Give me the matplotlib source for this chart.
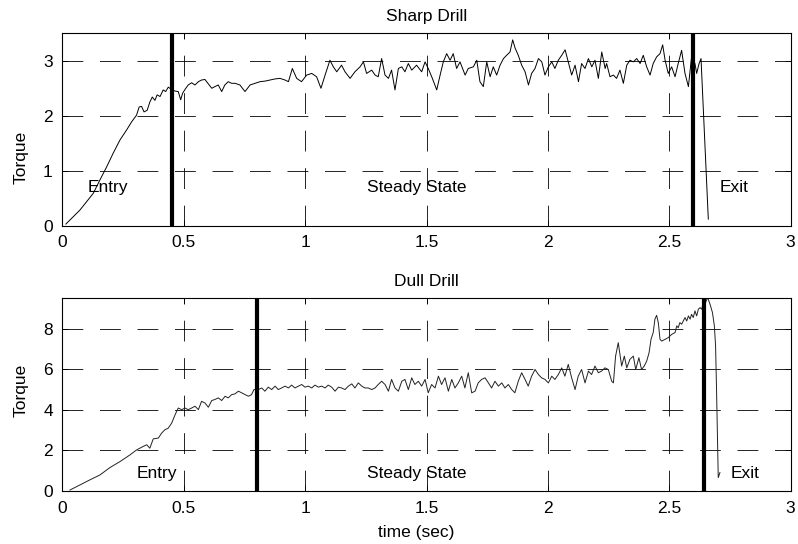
import matplotlib
matplotlib.use("Agg")
import matplotlib.pyplot as plt
from matplotlib.ticker import FormatStrFormatter

plt.rcParams['font.family'] = ['Liberation Sans', 'DejaVu Sans']
plt.rcParams['font.size'] = 12.5
plt.rcParams['lines.scale_dashes'] = False

# sharp drill torque trace
sharp_t = [0.014, 0.045, 0.072, 0.100, 0.127, 0.154, 0.182, 0.209, 0.237, 0.264,
           0.285, 0.305, 0.316, 0.326, 0.336, 0.349, 0.360, 0.370, 0.381, 0.390,
           0.402, 0.415, 0.425, 0.436, 0.449, 0.463, 0.477, 0.487, 0.495, 0.505,
           0.518, 0.532, 0.546, 0.560, 0.573, 0.587, 0.601, 0.615, 0.628, 0.642,
           0.656, 0.669, 0.683, 0.697,
           0.711, 0.731, 0.752, 0.773, 0.793, 0.814, 0.834, 0.855, 0.876, 0.896,
           0.917, 0.931, 0.947, 0.965, 0.985, 1.006, 1.027, 1.047, 1.065, 1.082,
           1.102, 1.116, 1.130, 1.150, 1.164, 1.185, 1.205, 1.226, 1.240, 1.253,
           1.274, 1.288, 1.301, 1.315, 1.329, 1.343, 1.356, 1.370, 1.384, 1.398,
           1.411, 1.425, 1.439, 1.459, 1.480, 1.494, 1.507, 1.524, 1.542, 1.556,
           1.569, 1.583, 1.597, 1.610, 1.624, 1.638, 1.659, 1.672,
           1.693, 1.707, 1.720, 1.734, 1.748, 1.762, 1.775, 1.789, 1.803, 1.817,
           1.830, 1.844, 1.855, 1.865, 1.878, 1.892, 1.906, 1.920, 1.933, 1.947,
           1.961, 1.975, 1.988, 2.002, 2.016, 2.029, 2.043, 2.057, 2.071, 2.084,
           2.098, 2.112, 2.126, 2.139, 2.153, 2.167, 2.181, 2.194, 2.208, 2.222,
           2.236, 2.242, 2.256, 2.270, 2.283, 2.297, 2.311, 2.325, 2.338, 2.352,
           2.366, 2.380, 2.393, 2.407, 2.421, 2.434, 2.448, 2.462, 2.473, 2.483,
           2.496, 2.510, 2.524, 2.537, 2.551, 2.565, 2.579, 2.592, 2.606, 2.613,
           2.623, 2.631, 2.661]
sharp_torque = [0.03, 0.165, 0.285, 0.44, 0.59, 0.83, 1.07, 1.32, 1.56, 1.74,
                1.89, 2.01, 2.16, 2.17, 2.07, 2.10, 2.25, 2.34, 2.28, 2.38,
                2.35, 2.47, 2.44, 2.52, 2.48, 2.45, 2.44, 2.29, 2.41, 2.48,
                2.56, 2.60, 2.56, 2.62, 2.65, 2.66, 2.58, 2.50, 2.53, 2.56,
                2.44, 2.56, 2.62, 2.59,
                2.59, 2.56, 2.44, 2.56, 2.59, 2.62, 2.63, 2.65, 2.67, 2.68,
                2.65, 2.62, 2.86, 2.68, 2.62, 2.74, 2.77, 2.71, 2.50, 2.74,
                3.01, 2.89, 2.80, 2.92, 2.80, 2.68, 2.80, 2.89, 2.98, 2.77,
                2.83, 2.74, 2.71, 3.04, 2.74, 2.68, 2.83, 2.47, 2.86, 2.89,
                2.80, 2.95, 2.83, 2.92, 2.80, 2.98, 2.86, 2.68, 2.47, 2.74,
                2.98, 3.13, 3.01, 3.13, 2.86, 2.98, 2.74, 2.86,
                2.89, 3.01, 2.62, 2.53, 2.98, 2.71, 2.89, 2.74, 2.92, 3.04,
                3.10, 3.16, 3.38, 3.23, 3.10, 2.92, 2.80, 2.56, 2.77, 2.86,
                3.04, 2.98, 2.74, 2.89, 2.98, 2.86, 3.01, 3.10, 3.20, 2.98,
                2.74, 2.92, 2.62, 2.95, 2.86, 3.04, 2.89, 3.01, 2.68, 3.16,
                2.86, 2.95, 2.71, 2.74, 2.68, 2.83, 2.59, 2.92, 3.01, 2.98,
                3.04, 2.95, 3.10, 2.89, 2.74, 2.95, 3.07, 3.13, 3.29, 3.01,
                2.77, 2.89, 2.71, 2.95, 3.19, 2.77, 2.53, 3.07, 2.95, 2.77,
                2.95, 3.04, 0.12]

# dull drill torque trace
dull_t = [0.031, 0.072, 0.113, 0.154, 0.196, 0.237, 0.278, 0.306, 0.333, 0.347,
          0.360, 0.374, 0.395, 0.409, 0.422, 0.436, 0.450, 0.464, 0.477, 0.491,
          0.505, 0.518, 0.532, 0.546, 0.560, 0.573, 0.587, 0.601, 0.615, 0.628,
          0.642, 0.656, 0.670, 0.683, 0.697, 0.711, 0.725, 0.738, 0.752, 0.766,
          0.779, 0.789,
          0.807, 0.821, 0.834, 0.848, 0.862, 0.876, 0.889, 0.903, 0.917, 0.931,
          0.944, 0.958, 0.972, 0.986, 0.999, 1.013, 1.027, 1.040, 1.054, 1.068,
          1.082, 1.095, 1.109, 1.123, 1.137, 1.150, 1.164, 1.178, 1.192, 1.205,
          1.219, 1.233, 1.246, 1.260, 1.274, 1.288, 1.301, 1.315, 1.329, 1.343,
          1.356, 1.370, 1.384, 1.398, 1.411, 1.425, 1.439, 1.452, 1.466, 1.480,
          1.494, 1.507, 1.521, 1.535, 1.549, 1.562, 1.576, 1.590, 1.604, 1.617,
          1.631, 1.645, 1.658, 1.672, 1.686, 1.700, 1.713, 1.727, 1.741, 1.755,
          1.768, 1.782,
          1.796, 1.810, 1.823, 1.837, 1.851, 1.864, 1.878, 1.892, 1.906, 1.919,
          1.933, 1.947, 1.961, 1.974, 1.988, 2.002, 2.016, 2.029, 2.043, 2.057,
          2.070, 2.084, 2.098, 2.112, 2.125, 2.139, 2.153, 2.167, 2.180, 2.194,
          2.208, 2.221, 2.235, 2.249, 2.263, 2.270, 2.279, 2.290,
          2.304, 2.315, 2.325, 2.338, 2.352, 2.362, 2.375, 2.386, 2.397, 2.407,
          2.417, 2.425, 2.434, 2.441, 2.448, 2.455, 2.462, 2.469, 2.483, 2.496,
          2.510, 2.524, 2.531, 2.537, 2.544, 2.551, 2.558, 2.565, 2.572, 2.579,
          2.586, 2.592, 2.599, 2.606, 2.613, 2.620, 2.627, 2.634, 2.640, 2.647,
          2.658, 2.668, 2.678, 2.686, 2.691, 2.695, 2.699, 2.702, 2.709]
dull_torque = [0.05, 0.30, 0.55, 0.79, 1.16, 1.45, 1.78, 2.03, 2.20, 2.28,
               2.11, 2.57, 2.61, 2.86, 3.02, 3.10, 3.35, 3.76, 4.09, 4.01,
               4.09, 4.01, 4.09, 4.18, 4.01, 4.42, 4.34, 4.13, 4.46, 4.51,
               4.59, 4.46, 4.67, 4.59, 4.75, 4.79, 4.92, 4.84, 4.75, 4.67,
               4.75, 5.00,
               5.00, 5.08, 4.92, 5.12, 5.00, 5.17, 5.00, 5.08, 5.17, 5.08,
               5.22, 5.08, 5.17, 5.25, 5.12, 5.17, 5.08, 5.22, 5.12, 5.17,
               5.08, 5.22, 5.12, 4.92, 5.12, 5.08, 5.00, 5.17, 5.28, 5.08,
               5.33, 5.17, 5.08, 5.08, 5.00, 5.08, 5.25, 5.41, 5.25, 4.92,
               5.50, 5.08, 4.92, 5.41, 5.50, 5.00, 5.58, 5.25, 5.41, 5.17,
               5.50, 4.84, 5.25, 5.08, 5.66, 5.25, 5.58, 4.92, 5.50, 5.08,
               5.33, 5.66, 5.08, 5.83, 4.84, 4.92, 5.33, 5.50, 5.58, 5.33,
               5.08, 5.41,
               5.17, 5.33, 5.08, 5.25, 5.00, 4.84, 5.41, 5.83, 5.50, 5.17,
               5.66, 5.99, 5.74, 5.58, 5.50, 5.33, 5.66, 5.50, 5.74, 6.07,
               5.66, 6.24, 5.58, 5.00, 5.66, 5.99, 5.33, 5.91, 5.74, 6.16,
               5.83, 5.91, 6.07, 5.99, 5.41, 5.33, 6.65, 7.31,
               6.16, 6.65, 6.07, 6.49, 6.65, 5.99, 6.57, 5.99, 6.16, 6.40,
               6.82, 7.48, 7.81, 8.47, 8.66, 8.30, 7.48, 7.39, 7.48, 7.56,
               7.72, 7.81, 8.14, 8.05, 8.30, 8.22, 8.38, 8.55, 8.38, 8.63,
               8.47, 8.71, 8.55, 8.88, 8.63, 8.96, 9.04, 8.96, 9.29, 9.21,
               9.54, 9.21, 8.80, 8.14, 7.15, 4.95, 2.48, 0.66, 0.91]

sharp_phase = [0.45, 2.6]
dull_phase = [0.8, 2.645]
phase_names = ["Entry", "Steady State", "Exit"]

fig = plt.figure(figsize=(7.98, 5.44), dpi=100)
ax1 = fig.add_axes([0.0783, 0.5851, 0.9124, 0.3537])
ax2 = fig.add_axes([0.0783, 0.0974, 0.9124, 0.3543])


def style(ax, yticks, ylim):
    ax.set_xlim(0, 3)
    ax.set_ylim(*ylim)
    ax.set_xticks([0, 0.5, 1, 1.5, 2, 2.5, 3])
    ax.set_yticks(yticks)
    ax.xaxis.set_major_formatter(FormatStrFormatter('%g'))
    ax.grid(True, color='k', linewidth=0.6, linestyle=(0, (15, 12)))
    ax.set_axisbelow(True)
    ax.tick_params(direction='in', length=4, width=0.6, top=True, right=True,
                   pad=7, labelsize=12.5)
    for sp in ax.spines.values():
        sp.set_linewidth(0.8)


# Sharp drill
style(ax1, [0, 1, 2, 3], (0, 3.5))
ax1.plot(sharp_t, sharp_torque, color='k', linewidth=0.7)
for xb in sharp_phase:
    ax1.axvline(xb, color='k', linewidth=3)
ax1.text(0.185, 0.70, phase_names[0], ha='center', va='center')
ax1.text(1.461, 0.70, phase_names[1], ha='center', va='center')
ax1.text(2.768, 0.70, phase_names[2], ha='center', va='center')
ax1.set_title("Sharp Drill", pad=9, fontsize=12.5)
ax1.set_ylabel("Torque")
ax1.yaxis.set_label_coords(-0.047, 0.355)

# Dull drill
style(ax2, [0, 2, 4, 6, 8], (0, 9.5))
ax2.plot(dull_t, dull_torque, color='#222222', linewidth=0.7)
for xb in dull_phase:
    ax2.axvline(xb, color='k', linewidth=3)
ax2.text(0.388, 0.88, phase_names[0], ha='center', va='center')
ax2.text(1.461, 0.88, phase_names[1], ha='center', va='center')
ax2.text(2.814, 0.88, phase_names[2], ha='center', va='center')
ax2.set_title("Dull Drill", pad=9, fontsize=12.5)
ax2.set_ylabel("Torque")
ax2.yaxis.set_label_coords(-0.047, 0.52)
ax2.set_xlabel("time (sec)")
ax2.xaxis.set_label_coords(0.486, -0.175)

fig.savefig("out.png", dpi=100)
